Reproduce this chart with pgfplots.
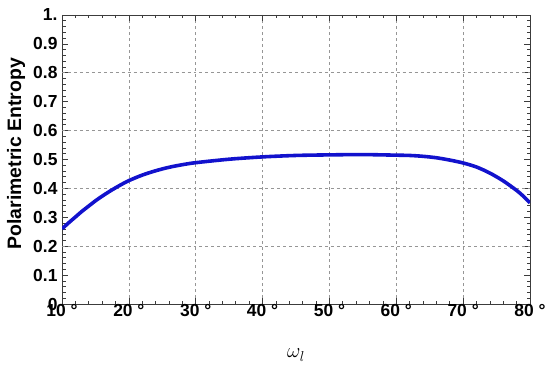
\documentclass[border=0pt]{standalone}
\usepackage{fontspec}
\setmainfont{Liberation Sans}
\usepackage{pgfplots}
\pgfplotsset{compat=1.18}
\definecolor{curveblue}{RGB}{18,18,205}
\definecolor{gridgray}{RGB}{150,150,150}
\definecolor{axisgray}{RGB}{60,60,60}
\newcommand{\tickfont}{\fontsize{17.5}{17.5}\selectfont\bfseries}
\begin{document}
\begin{tikzpicture}
\begin{axis}[
  scale only axis, width=468bp, height=289bp,
  xmin=10, xmax=80, ymin=0, ymax=1,
  xtick={10,20,...,80},
  xticklabels={{\tickfont 10 °},{\tickfont 20 °},{\tickfont 30 °},{\tickfont 40 °},{\tickfont 50 °},{\tickfont 60 °},{\tickfont 70 °},{\tickfont 80 °}},
  ytick={0,0.1,...,1.01},
  yticklabels={{\tickfont 0},{\tickfont 0.1},{\tickfont 0.2},{\tickfont 0.3},{\tickfont 0.4},{\tickfont 0.5},{\tickfont 0.6},{\tickfont 0.7},{\tickfont 0.8},{\tickfont 0.9},{\tickfont 1.}},
  minor x tick num=4, minor y tick num=4,
  major tick length=6bp, minor tick length=3.5bp,
  xmajorgrids, grid style={gridgray, dashed, line width=0.6pt},
  extra y ticks={0.2,0.4,0.6,0.8}, extra y tick labels={},
  extra y tick style={ymajorgrids=true, major tick length=0pt},
  axis line style={axisgray, line width=0.8pt},
  tick style={axisgray, line width=0.7pt},
  /pgf/number format/assume math mode=true,
  xticklabel style={yshift=3bp},
  yticklabel style={xshift=-1bp},
  ylabel={\bfseries Polarimetric Entropy},
  ylabel style={font=\fontsize{19.5}{19.5}\selectfont, at={([xshift=-46bp]rel axis cs:0,0.52)}, anchor=center},
  xlabel={$\omega_l$},
  xlabel style={font=\fontsize{21}{21}\selectfont, at={([yshift=-51bp]rel axis cs:0.5,0)}, anchor=center},
]
\addplot[curveblue, line width=3.6pt, smooth] coordinates {
(10,0.260) (11,0.281) (12,0.301) (13,0.321) (14,0.339) (15,0.357) (16,0.373)
(17,0.388) (18,0.402) (19,0.415) (20,0.427) (22,0.446) (24,0.461) (26,0.473)
(28,0.482) (30,0.489) (35,0.501) (40,0.509) (45,0.514) (50,0.516) (55,0.517)
(60,0.515) (62,0.514) (64,0.511) (66,0.506) (68,0.498) (70,0.488) (72,0.474)
(74,0.453) (76,0.426) (78,0.393) (79,0.373) (80,0.350)
};
\coordinate (ll) at (rel axis cs:0,0);
\coordinate (ur) at (rel axis cs:1,1);
\end{axis}
\pgfresetboundingbox
\path[use as bounding box] ([shift={(-62bp,-61bp)}]ll) rectangle ([shift={(20bp,15bp)}]ur);
\end{tikzpicture}
\end{document}
